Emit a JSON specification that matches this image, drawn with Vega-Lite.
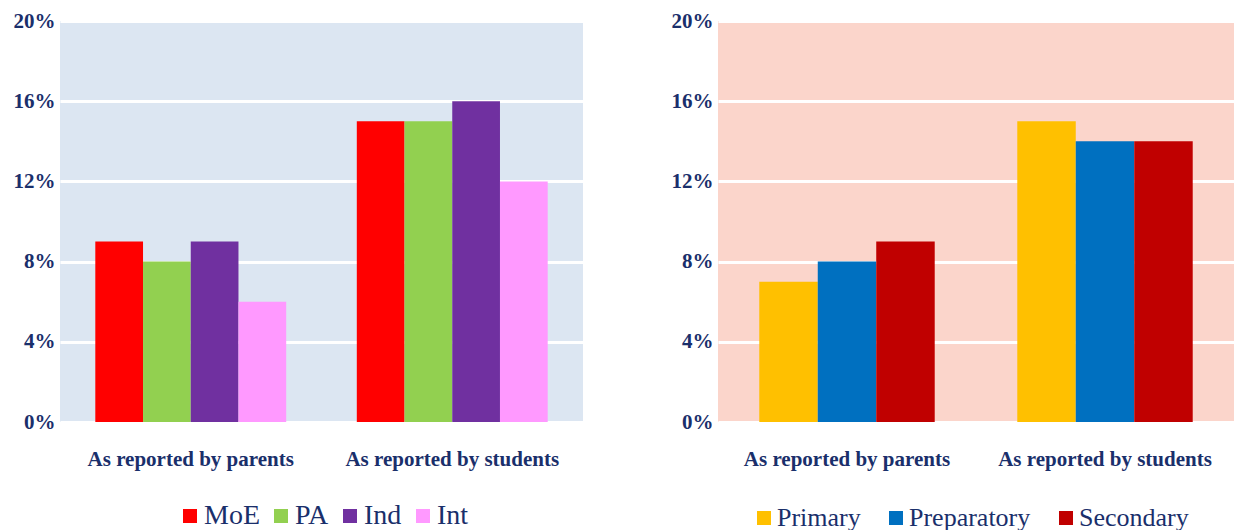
{
  "$schema": "https://vega.github.io/schema/vega-lite/v6.json",
  "padding": {"left": 8, "top": 10, "right": 0, "bottom": 0},
  "autosize": {"type": "pad"},
  "spacing": 83,
  "resolve": {
    "scale": {"color": "independent", "xOffset": "independent", "x": "independent", "y": "independent"},
    "legend": {"color": "independent"}
  },
  "config": {
    "font": "Liberation Serif",
    "view": {"stroke": null},
    "axis": {
      "labelFont": "Liberation Serif",
      "labelColor": "#1a2f6b",
      "labelFontWeight": "bold",
      "domain": false,
      "ticks": false
    },
    "legend": {
      "labelFont": "Liberation Serif, Times New Roman, serif",
      "labelColor": "#1a2f6b",
      "labelFontSize": 26,
      "symbolType": "square",
      "symbolSize": 196,
      "symbolStrokeWidth": 0,
      "symbolOpacity": 1,
      "orient": "none",
      "direction": "horizontal",
      "padding": 0,
      "title": null
    }
  },
  "hconcat": [
    {
      "width": 523,
      "height": 401,
      "view": {"fill": "#dce6f2", "stroke": null},
      "data": {"values": [
        {"reporter": "As reported by parents", "group": "MoE", "pct": 9},
        {"reporter": "As reported by parents", "group": "PA", "pct": 8},
        {"reporter": "As reported by parents", "group": "Ind", "pct": 9},
        {"reporter": "As reported by parents", "group": "Int", "pct": 6},
        {"reporter": "As reported by students", "group": "MoE", "pct": 15},
        {"reporter": "As reported by students", "group": "PA", "pct": 15},
        {"reporter": "As reported by students", "group": "Ind", "pct": 16},
        {"reporter": "As reported by students", "group": "Int", "pct": 12}
      ]},
      "mark": {"type": "bar"},
      "encoding": {
        "x": {
          "field": "reporter", "type": "nominal",
          "sort": ["As reported by parents", "As reported by students"],
          "scale": {"paddingInner": 0.27, "paddingOuter": 0.135},
          "axis": {"title": null, "labelAngle": 0, "labelFontSize": 21, "labelPadding": 26, "labelLimit": 0, "grid": false}
        },
        "xOffset": {"field": "group", "type": "nominal", "sort": ["MoE", "PA", "Ind", "Int"], "scale": {"paddingInner": 0, "paddingOuter": 0}},
        "y": {
          "field": "pct", "type": "quantitative",
          "scale": {"domain": [0, 20]},
          "axis": {"title": null, "values": [0, 4, 8, 12, 16, 20], "labelExpr": "datum.value + '%'", "labelFontSize": 21, "labelPadding": 5, "minExtent": 52, "maxExtent": 52, "grid": true, "gridColor": "#ffffff", "gridWidth": 3, "gridOpacity": 1}
        },
        "color": {
          "field": "group", "type": "nominal",
          "sort": ["MoE", "PA", "Ind", "Int"],
          "scale": {"domain": ["MoE", "PA", "Ind", "Int"], "range": ["#ff0000", "#92d050", "#7030a0", "#ff99ff"]},
          "legend": {"legendX": 116, "legendY": 481, "columnPadding": 7, "labelOffset": 0, "labelFontSize": 28, "labelFontWeight": "normal"}
        }
      }
    },
    {
      "width": 516,
      "height": 401,
      "view": {"fill": "#fbd5cb", "stroke": null},
      "data": {"values": [
        {"reporter": "As reported by parents", "level": "Primary", "pct": 7},
        {"reporter": "As reported by parents", "level": "Preparatory", "pct": 8},
        {"reporter": "As reported by parents", "level": "Secondary", "pct": 9},
        {"reporter": "As reported by students", "level": "Primary", "pct": 15},
        {"reporter": "As reported by students", "level": "Preparatory", "pct": 14},
        {"reporter": "As reported by students", "level": "Secondary", "pct": 14}
      ]},
      "mark": {"type": "bar"},
      "encoding": {
        "x": {
          "field": "reporter", "type": "nominal",
          "sort": ["As reported by parents", "As reported by students"],
          "scale": {"paddingInner": 0.32, "paddingOuter": 0.16},
          "axis": {"title": null, "labelAngle": 0, "labelFontSize": 21, "labelPadding": 26, "labelLimit": 0, "grid": false}
        },
        "xOffset": {"field": "level", "type": "nominal", "sort": ["Primary", "Preparatory", "Secondary"], "scale": {"paddingInner": 0, "paddingOuter": 0}},
        "y": {
          "field": "pct", "type": "quantitative",
          "scale": {"domain": [0, 20]},
          "axis": {"title": null, "values": [0, 4, 8, 12, 16, 20], "labelExpr": "datum.value + '%'", "labelFontSize": 21, "labelPadding": 5, "minExtent": 52, "maxExtent": 52, "grid": true, "gridColor": "#ffffff", "gridWidth": 3, "gridOpacity": 1}
        },
        "color": {
          "field": "level", "type": "nominal",
          "sort": ["Primary", "Preparatory", "Secondary"],
          "scale": {"domain": ["Primary", "Preparatory", "Secondary"], "range": ["#ffc000", "#0070c0", "#c00000"]},
          "legend": {"legendX": 33, "legendY": 484, "columnPadding": 22, "labelOffset": 0, "labelFontWeight": "normal"}
        }
      }
    }
  ]
}
